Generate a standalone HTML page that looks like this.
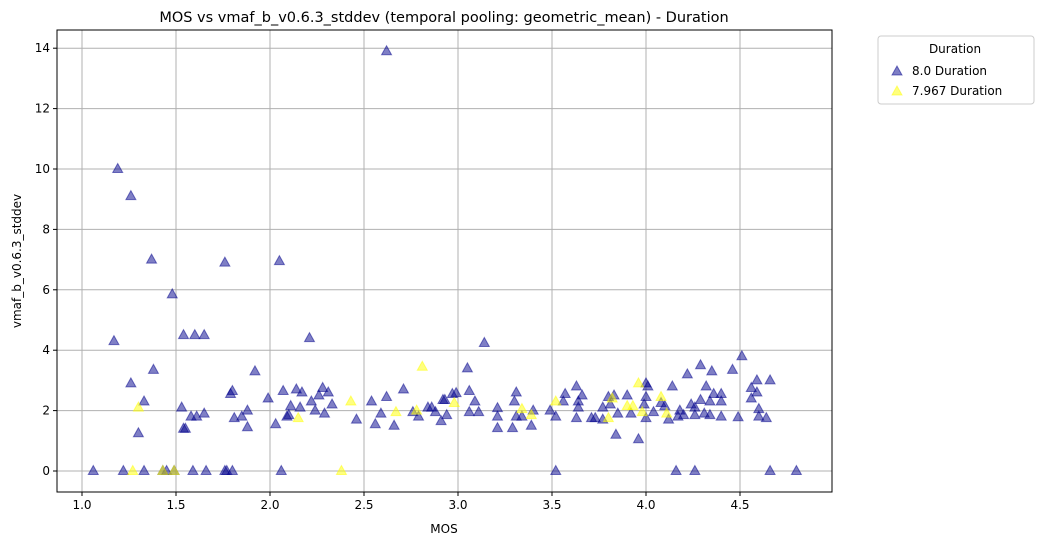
<!DOCTYPE html>
<html><head><meta charset="utf-8"><style>
body{margin:0;background:#fff;font-family:"Liberation Sans","DejaVu Sans",sans-serif}
svg text{font-family:"DejaVu Sans","Liberation Sans",sans-serif}
</style></head><body>
<svg id="chart" width="1042" height="545" xmlns="http://www.w3.org/2000/svg">
<rect width="1042" height="545" fill="#fff"/>
<text x="444" y="22" font-size="14.5" text-anchor="middle">MOS vs vmaf_b_v0.6.3_stddev (temporal pooling: geometric_mean) - Duration</text>
<g id="grid"></g><g id="marks"></g><g id="axes"></g>
<text x="444" y="533" font-size="12" text-anchor="middle">MOS</text>
<text transform="translate(21,261) rotate(-90)" font-size="12" text-anchor="middle">vmaf_b_v0.6.3_stddev</text>
<g>
<rect x="878" y="36" width="156" height="68" rx="3" fill="#fff" stroke="#ccc"/>
<text x="955" y="53" font-size="12" text-anchor="middle">Duration</text>
<polygon points="897,66 892,75 902,75" fill="#00008b" fill-opacity="0.5" stroke="#00008b" stroke-opacity="0.5"/>
<text x="912" y="75" font-size="12">8.0 Duration</text>
<polygon points="897,86 892,95 902,95" fill="#ffff00" fill-opacity="0.5" stroke="#ffff00" stroke-opacity="0.5"/>
<text x="912" y="95" font-size="12">7.967 Duration</text>
</g>
</svg>
<script>
const xTicks=[1.0,1.5,2.0,2.5,3.0,3.5,4.0,4.5];
const yTicks=[0,2,4,6,8,10,12,14];
const blueX=[1.06,1.19,1.26,1.17,1.37,1.48,1.38,1.26,1.33,1.30,1.22,1.33,1.43,1.45,1.49,1.54,1.60,1.65,1.53,1.54,1.55,1.58,1.61,1.65,1.59,1.66,1.76,1.77,1.80,1.76,1.79,1.80,1.81,1.85,1.88,1.88,1.92,1.99,2.03,2.05,2.06,2.07,2.09,2.10,2.11,2.14,2.16,2.17,2.21,2.22,2.24,2.26,2.28,2.29,2.31,2.33,2.46,2.54,2.56,2.59,2.62,2.62,2.66,2.71,2.76,2.79,2.84,2.86,2.88,2.91,2.92,2.94,2.97,3.05,3.14,2.99,2.93,3.06,3.09,3.06,3.11,3.21,3.21,3.21,3.31,3.30,3.31,3.34,3.29,3.40,3.39,3.49,3.52,3.52,3.56,3.57,3.63,3.66,3.64,3.64,3.63,3.71,3.73,3.77,3.77,3.80,3.81,3.83,3.85,3.84,3.90,3.96,3.92,4.00,4.01,4.00,3.99,4.00,4.04,4.08,4.10,4.14,4.12,4.16,4.18,4.17,4.20,4.22,4.24,4.26,4.26,4.26,4.29,4.29,4.32,4.31,4.34,4.34,4.35,4.36,4.40,4.40,4.40,4.46,4.49,4.51,4.56,4.56,4.59,4.59,4.60,4.60,4.64,4.66,4.66,4.80];
const blueY=[0,10.0,9.1,4.3,7.0,5.85,3.35,2.9,2.3,1.25,0,0,0,0,0,4.5,4.5,4.5,2.1,1.4,1.4,1.8,1.8,1.9,0,0,0,0,0,6.9,2.55,2.65,1.75,1.8,1.45,2.0,3.3,2.4,1.55,6.95,0,2.65,1.8,1.85,2.15,2.7,2.1,2.6,4.4,2.3,2.0,2.5,2.75,1.9,2.6,2.2,1.7,2.3,1.55,1.9,13.9,2.45,1.5,2.7,1.95,1.8,2.1,2.1,1.95,1.65,2.35,1.85,2.55,3.4,4.24,2.58,2.35,2.65,2.3,1.95,1.95,2.08,1.8,1.42,2.6,2.3,1.8,1.8,1.42,2.0,1.5,2.0,1.8,0,2.3,2.55,2.8,2.5,2.3,2.1,1.75,1.75,1.75,2.1,1.7,2.45,2.2,2.5,1.9,1.2,2.5,1.05,1.9,2.9,2.8,2.45,2.2,1.75,1.95,2.25,2.15,2.8,1.7,0,2.0,1.8,1.85,3.2,2.2,2.1,1.85,0,3.5,2.35,2.8,1.9,1.85,2.3,3.3,2.55,2.55,2.3,1.8,3.35,1.78,3.8,2.75,2.4,3.0,2.6,2.05,1.8,1.75,3.0,0,0];
const yelX=[1.30,1.27,1.43,1.49,2.15,2.38,2.43,2.67,2.78,2.81,2.98,3.34,3.39,3.52,3.82,3.90,3.93,3.96,3.98,3.80,4.08,4.11];
const yelY=[2.1,0,0,0,1.75,0,2.3,1.95,2.0,3.45,2.25,2.05,1.85,2.3,2.4,2.15,2.15,2.9,1.95,1.75,2.45,1.9];
const L=57,R=832,T=30,B=492;
const sx=v=>82+(v-1)*188, sy=v=>471-v*30.2;
const NS='http://www.w3.org/2000/svg';
const grid=document.getElementById('grid'),axes=document.getElementById('axes'),marks=document.getElementById('marks');
function mk(tag,attrs,parent){const e=document.createElementNS(NS,tag);for(const k in attrs)e.setAttribute(k,attrs[k]);parent.appendChild(e);return e;}
xTicks.forEach(t=>{const x=sx(t);
const g=mk('line',{x1:x,x2:x,y1:T,y2:B,stroke:'#b0b0b0','stroke-width':1},grid);


mk('line',{x1:x,x2:x,y1:B,y2:B+4,stroke:'#000'},axes);
const tx=mk('text',{x:x,y:B+17,'font-size':12,'text-anchor':'middle'},axes);tx.textContent=t.toFixed(1);

});
yTicks.forEach(t=>{const y=sy(t);
const g=mk('line',{x1:L,x2:R,y1:y,y2:y,stroke:'#b0b0b0','stroke-width':1},grid);


mk('line',{x1:L-4,x2:L,y1:y,y2:y,stroke:'#000'},axes);
const tx=mk('text',{x:L-7,y:y+4,'font-size':12,'text-anchor':'end'},axes);tx.textContent=t;

});
const fr=mk('rect',{x:L,y:T,width:R-L,height:B-T,fill:'none',stroke:'#000','stroke-width':1},axes);


function tri(x,y,c,name){const X=sx(x),Y=sy(y);
const p=mk('polygon',{points:`${X},${Y-5.5} ${X-5},${Y+3.5} ${X+5},${Y+3.5}`,fill:c,'fill-opacity':0.5,stroke:c,'stroke-opacity':0.5},marks);

}
blueX.forEach((x,i)=>tri(x,blueY[i],'#00008b','point-8-duration'));
yelX.forEach((x,i)=>tri(x,yelY[i],'#ffff00','point-7967-duration'));
</script>
</body></html>
